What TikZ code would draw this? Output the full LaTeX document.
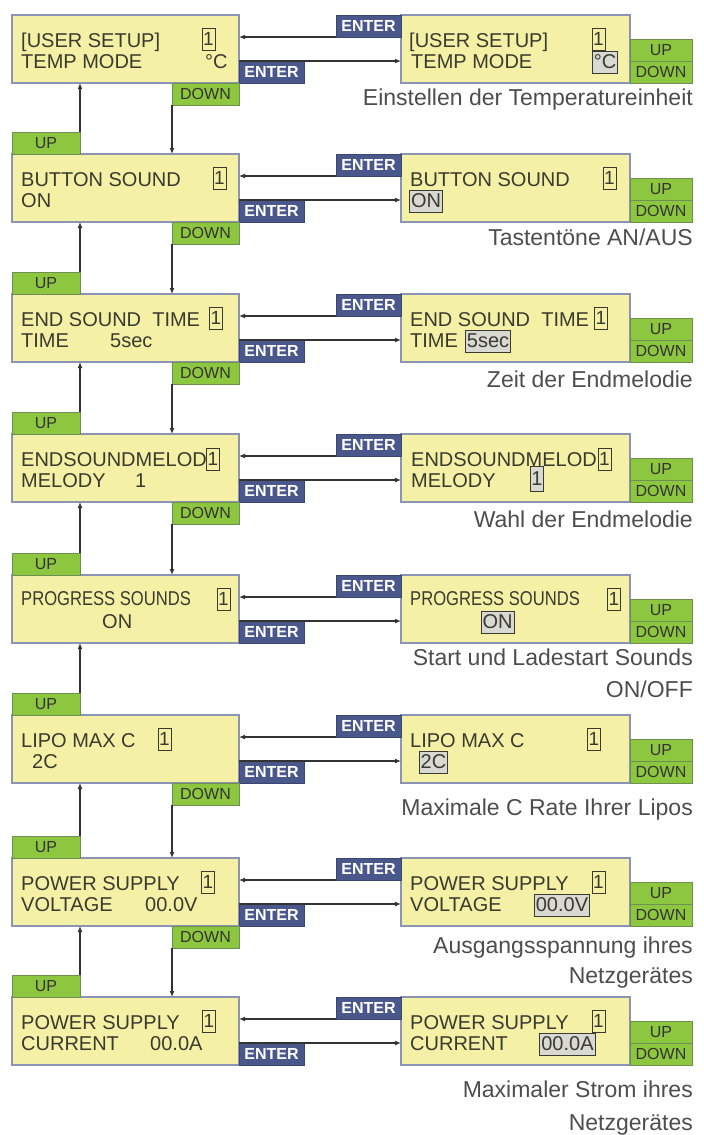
\documentclass[tikz,border=0pt]{standalone}
\usepackage{fontspec}
\setmainfont{Liberation Sans}
\usetikzlibrary{arrows.meta}
\definecolor{lcdfill}{HTML}{F4F1A6}
\definecolor{lcdline}{HTML}{8C94B6}
\definecolor{enterblue}{HTML}{4A578A}
\definecolor{keygreen}{HTML}{8DC63F}
\definecolor{keyline}{HTML}{6E8F52}
\definecolor{lcdtext}{HTML}{3A3A2E}
\definecolor{captext}{HTML}{4D4D4D}
\definecolor{selfill}{HTML}{D9D9D4}

\begin{document}
\begin{tikzpicture}[x=1pt,y=-1pt,
    lcd/.style={draw=lcdline,line width=1.2pt,fill=lcdfill,inner sep=0pt,outer sep=0pt,minimum height=68pt},
    enter/.style={draw=enterblue!80!black,fill=enterblue,text=white,font=\fontsize{16}{18}\selectfont\bfseries,inner sep=0pt,outer sep=0pt,minimum height=22pt,minimum width=65pt},
    keyg/.style={draw=keyline,fill=keygreen,text=black!80,font=\fontsize{16}{18}\selectfont,inner sep=0pt,outer sep=0pt,minimum height=22pt},
    txt/.style={anchor=base west,inner sep=0pt,text=lcdtext,font=\fontsize{20}{24}\selectfont},
    one/.style={draw=lcdtext,line width=0.9pt,inner sep=0pt,minimum width=13pt,minimum height=22pt,text=lcdtext,font=\fontsize{19}{22}\selectfont},
    sel/.style={draw=lcdtext,line width=0.9pt,fill=selfill,inner xsep=1.5pt,inner ysep=0pt,minimum height=22pt,text=lcdtext,font=\fontsize{20}{24}\selectfont},
    note/.style={anchor=base east,inner sep=0pt,text=captext,font=\fontsize{23}{27}\selectfont},
    flow/.style={draw=black!80,line width=1.3pt,-{Latex[length=6pt,width=5pt]}}]
    \useasboundingbox (0,0) rectangle (704,1135);

    % displays, ENTER keys, UP/DOWN keys
    \foreach \i/\t in {1/15,2/154,3/294,4/434,5/575,6/715,7/858,8/997} {
        \node[lcd,anchor=north west,minimum width=227pt] (L\i) at (12,\t) {};
        \node[lcd,anchor=north west,minimum width=229pt] (R\i) at (401,\t) {};
        \node[enter,anchor=north east] (EA\i) at (R\i.north west) {ENTER};
        \node[enter,anchor=south west] (EB\i) at (L\i.south east) {ENTER};
        \node[keyg,anchor=south west,minimum width=62pt] (RD\i) at (R\i.south east) {DOWN};
        \node[keyg,anchor=south,minimum width=62pt] (RU\i) at (RD\i.north) {UP};
        \draw[flow] (EA\i.south west) -- (EA\i.south west -| L\i.east);
        \draw[flow] (EB\i.north west) -- (EB\i.north west -| R\i.west);
    }
    \foreach \i/\j in {1/2,2/3,3/4,4/5,6/7,7/8} {
        \node[keyg,anchor=north east,minimum width=67pt] (LD\i) at (L\i.south east) {DOWN};
        \draw[flow] (LD\i.south west) -- (LD\i.south west |- L\j.north);
    }
    \foreach \i/\j in {2/1,3/2,4/3,5/4,6/5,7/6,8/7} {
        \node[keyg,anchor=south west,minimum width=68pt] (LU\i) at (L\i.north west) {UP};
        \draw[flow] (LU\i.north east) -- (LU\i.north east |- L\j.south);
    }

    % row 1
    \node[txt] (a1) at (21,47) {[USER SETUP]};
    \node[txt] (a2) at (21,68) {TEMP MODE};
    \node[txt] (a3) at (205,68) {°C};
    \node[one] (a4) at (208.5,39) {1};
    \node[txt] (a5) at (409,47) {[USER SETUP]};
    \node[txt] (a6) at (411,68) {TEMP MODE};
    \node[one] (a7) at (598.5,39) {1};
    \node[sel] (a8) at (605,62) {°C};
    % row 2
    \node[txt] (b1) at (21,186) {BUTTON SOUND};
    \node[txt] (b2) at (21,207) {ON};
    \node[one] (b3) at (219.5,178) {1};
    \node[txt] (b4) at (410,186) {BUTTON SOUND};
    \node[sel] (b5) at (426,201) {ON};
    \node[one] (b6) at (609.5,178) {1};
    % row 3
    \node[txt] (c1) at (21,326) {END SOUND\ \ TIME};
    \node[txt] (c2) at (21,347) {TIME};
    \node[txt] (c3) at (110,347) {5sec};
    \node[one] (c4) at (216,318) {1};
    \node[txt] (c5) at (410,326) {END SOUND\ \ TIME};
    \node[txt] (c6) at (410,347) {TIME};
    \node[sel] (c7) at (488,341) {5sec};
    \node[one] (c8) at (601,318) {1};
    % row 4
    \node[txt] (d1) at (21,466) {ENDSOUNDMELOD};
    \node[txt] (d2) at (21,487) {MELODY};
    \node[txt] (d3) at (135,487) {1};
    \node[one] (d4) at (213,459) {1};
    \node[txt] (d5) at (411,466) {ENDSOUNDMELOD};
    \node[txt] (d6) at (411,487) {MELODY};
    \node[sel,minimum height=25pt,inner xsep=1pt] (d7) at (537,479) {1};
    \node[one] (d8) at (604.5,459) {1};
    % row 5
    \node[txt] (e1) at (21,605) {\scalebox{0.83}[1]{PROGRESS SOUNDS}};
    \node[txt] (e2) at (102,628) {ON};
    \node[one] (e3) at (223.5,599) {1};
    \node[txt] (e4) at (410,605) {\scalebox{0.83}[1]{PROGRESS SOUNDS}};
    \node[sel] (e5) at (497.5,622) {ON};
    \node[one] (e6) at (614,599) {1};
    % row 6
    \node[txt] (f1) at (21,747) {LIPO MAX C};
    \node[txt] (f2) at (32,768) {2C};
    \node[one] (f3) at (164.5,739) {1};
    \node[txt] (f4) at (410,747) {LIPO MAX C};
    \node[sel] (f5) at (433.5,762) {2C};
    \node[one] (f6) at (594,739) {1};
    % row 7
    \node[txt] (g1) at (21,890) {POWER SUPPLY};
    \node[txt] (g2) at (21,911) {VOLTAGE};
    \node[txt] (g3) at (145,911) {00.0V};
    \node[one] (g4) at (208,882) {1};
    \node[txt] (g5) at (410,890) {POWER SUPPLY};
    \node[txt] (g6) at (410,911) {VOLTAGE};
    \node[sel] (g7) at (562,905) {00.0V};
    \node[one] (g8) at (598.5,882) {1};
    % row 8
    \node[txt] (h1) at (21,1029) {POWER SUPPLY};
    \node[txt] (h2) at (21,1050) {CURRENT};
    \node[txt] (h3) at (150,1050) {00.0A};
    \node[one] (h4) at (209,1021) {1};
    \node[txt] (h5) at (410,1029) {POWER SUPPLY};
    \node[txt] (h6) at (410,1050) {CURRENT};
    \node[sel] (h7) at (567.5,1044) {00.0A};
    \node[one] (h8) at (598.5,1021) {1};

    % captions
    \node[note] (k1) at (693,105) {Einstellen der Temperatureinheit};
    \node[note] (k2) at (693,245) {Tastentöne AN/AUS};
    \node[note] (k3) at (693,387) {Zeit der Endmelodie};
    \node[note] (k4) at (693,527) {Wahl der Endmelodie};
    \node[note] (k5a) at (693,665) {Start und Ladestart Sounds};
    \node[note] (k5b) at (693,697) {ON/OFF};
    \node[note] (k6) at (693,815) {Maximale C Rate Ihrer Lipos};
    \node[note] (k7a) at (693,953) {Ausgangsspannung ihres};
    \node[note] (k7b) at (693,983) {Netzgerätes};
    \node[note] (k8a) at (693,1097) {Maximaler Strom ihres};
    \node[note] (k8b) at (693,1130) {Netzgerätes};
\end{tikzpicture}
\end{document}
